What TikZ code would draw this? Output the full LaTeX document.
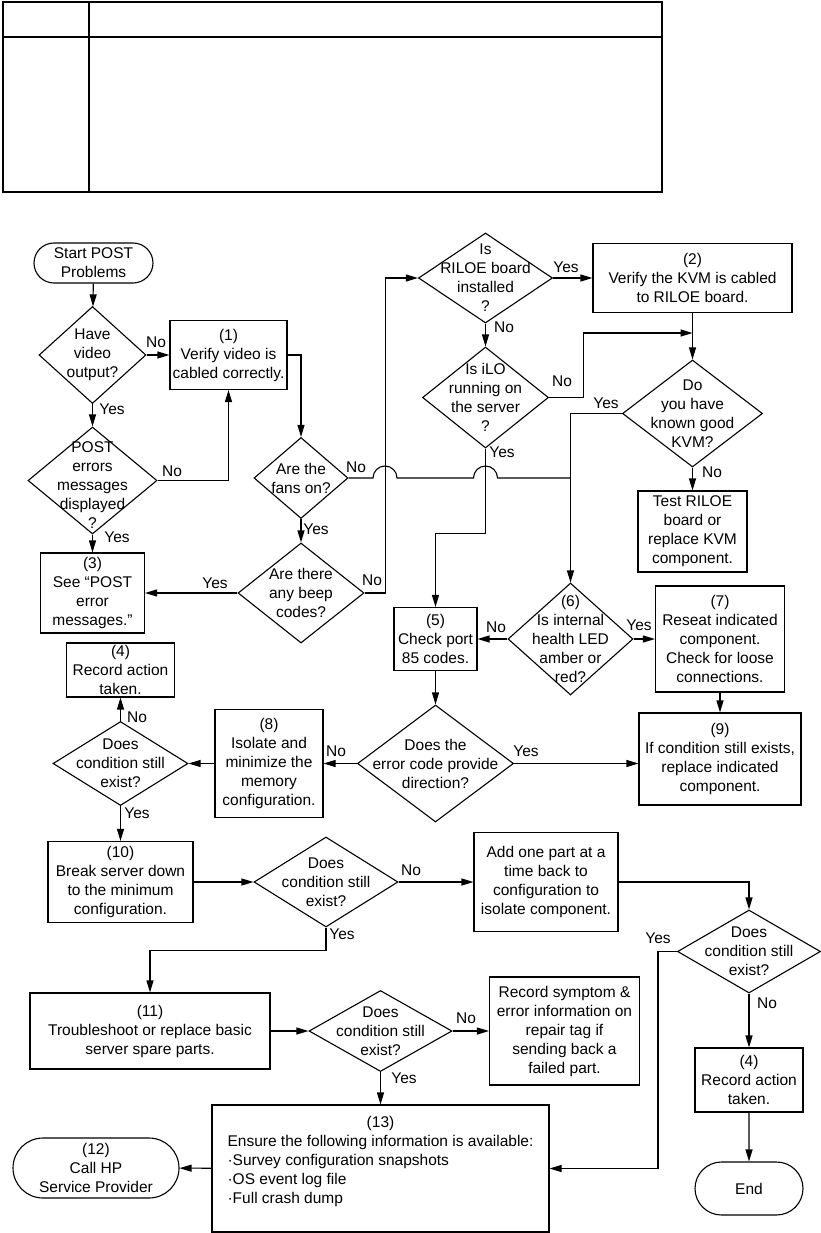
\documentclass[tikz,border=0pt]{standalone}
\usepackage{fontspec}
\setmainfont{Liberation Sans}
\usetikzlibrary{shapes.geometric,shapes.misc,arrows.meta}
\newcommand{\txtfont}{\fontsize{15.5}{19}\selectfont}

\begin{document}
\begin{tikzpicture}[x=1pt,y=-1pt,
  box/.style 2 args={draw, rectangle, line width=1.1pt, minimum width=#1, minimum height=#2, inner sep=0pt, align=center, font=\txtfont},
  term/.style 2 args={draw, rounded rectangle, line width=1.1pt, minimum width=#1, minimum height=#2, inner sep=0pt, align=center, font=\txtfont},
  decision/.style 2 args={draw, diamond, line width=1.1pt, minimum width=#1, minimum height=#2, inner sep=0pt},
  txt/.style={align=center, font=\txtfont, inner sep=0pt},
  flow/.style={draw, line width=1.1pt, -{Triangle[length=12pt,width=7pt]}},
  wire/.style={draw, line width=1.1pt}]
\useasboundingbox (0,0) rectangle (821,1233);

\draw[line width=2.5pt] (3,2) rectangle (662,192);
\draw[line width=2.5pt] (3,37) -- (662,37);
\draw[line width=2.5pt] (89,2) -- (89,192);

\node[term={119pt}{40pt}] (start) at (93.5,263) {Start POST\\Problems};
\node[decision={107pt}{97pt}, label={[txt]center:Have\\video\\output?}] (video) at (92.5,355) {};
\node[box={117pt}{69pt}] (b1) at (228.5,355) {(1)\\Verify video is\\cabled correctly.};
\node[decision={129pt}{107pt}, label={[txt,yshift=-5pt]center:POST\\errors\\messages\\displayed\\?}] (post) at (92.5,480.5) {};
\node[decision={94pt}{81pt}, label={[txt]center:Are the\\fans on?}] (fans) at (301,478) {};
\node[box={104pt}{80pt}] (b3) at (92.5,593) {(3)\\See “POST\\error\\messages.”};
\node[decision={126pt}{100pt}, label={[txt]center:Are there\\any beep\\codes?}] (beep) at (301,593) {};

\node[decision={134pt}{90pt}, label={[txt]center:Is\\RILOE board\\installed\\?}] (riloe) at (485.5,278) {};
\node[box={199pt}{69pt}] (b2) at (692.5,278) {(2)\\Verify the KVM is cabled\\to RILOE board.};
\node[decision={126pt}{101pt}, label={[txt]center:Is iLO\\running on\\the server\\?}] (ilo) at (485.5,397.5) {};
\node[decision={140pt}{107pt}, label={[txt]center:Do\\you have\\known good\\KVM?}] (kvm) at (692.5,413.5) {};
\node[box={109pt}{81pt}] (test) at (692.5,531.5) {Test RILOE\\board or\\replace KVM\\component.};

\node[box={83pt}{63pt}] (b5) at (435.5,639) {(5)\\Check port\\85 codes.};
\node[decision={125pt}{112pt}, label={[txt]center:(6)\\Is internal\\health LED\\amber or\\red?}] (q6) at (570.5,639) {};
\node[box={129pt}{106pt}] (b7) at (720,639) {(7)\\Reseat indicated\\component.\\Check for loose\\connections.};
\node[box={162pt}{92pt}] (b9) at (720,759) {(9)\\If condition still exists,\\replace indicated\\component.};
\node[decision={156pt}{117pt}, label={[txt]center:Does the\\error code provide\\direction?}] (code) at (435.5,763.5) {};
\node[box={108pt}{108pt}] (b8) at (269,763.5) {(8)\\Isolate and\\minimize the\\memory\\configuration.};
\node[decision={135pt}{84pt}, label={[txt]center:Does\\condition still\\exist?}] (cond1) at (120.5,763.5) {};
\node[box={108pt}{54pt}] (b4a) at (120.5,670) {(4)\\Record action\\taken.};

\node[box={145pt}{81pt}] (b10) at (120.5,882) {(10)\\Break server down\\to the minimum\\configuration.};
\node[decision={144pt}{90pt}, label={[txt]center:Does\\condition still\\exist?}] (cond2) at (326,882) {};
\node[box={144pt}{99pt}] (add) at (546,882) {Add one part at a\\time back to\\configuration to\\isolate component.};
\node[decision={143pt}{83pt}, label={[txt]center:Does\\condition still\\exist?}] (cond3) at (749,951.5) {};
\node[box={108pt}{64pt}] (b4b) at (749,1080) {(4)\\Record action\\taken.};
\node[term={108pt}{53pt}] (end) at (749,1188.5) {End};

\node[box={240pt}{76pt}] (b11) at (150,1031) {(11)\\Troubleshoot or replace basic\\server spare parts.};
\node[decision={143pt}{81pt}, label={[txt]center:Does\\condition still\\exist?}] (cond4) at (380.5,1031) {};
\node[box={150pt}{108pt}] (rec) at (564.5,1031) {Record symptom \&\\error information on\\repair tag if\\sending back a\\failed part.};
\node[box={337pt}{127pt}] (b13) at (380.5,1168.5) {\begin{tabular}{@{}l@{}}\multicolumn{1}{@{}c@{}}{(13)}\\Ensure the following information is available:\\·Survey configuration snapshots\\·OS event log file\\·Full crash dump\\[14pt]\end{tabular}};
\node[term={166pt}{60pt}] (b12) at (96,1168) {(12)\\Call HP\\Service Provider};

\coordinate (j2) at (692.5,333);
\coordinate (j6) at (570.5,478);

\path[flow] (start) -- (video);
\path[flow] (video) -- (b1);
\path[flow] (video) -- (post);
\path[flow] (post.east) -| (b1.south);
\path[flow] (b1.east) -| (fans.north);
\path[flow] (post) -- (b3);
\path[flow] (fans) -- (beep);
\path[flow] (beep) -- (b3);
\path[flow] (beep.east) -- ++(21,0) |- (riloe.west);
\path[wire] (fans.east) -- (373,478) arc (180:360:12) -- (473.5,478) arc (180:360:12) -- (j6);
\path[flow] (riloe) -- (b2);
\path[flow] (riloe) -- (ilo);
\path[flow] (b2) -- (kvm);
\path[flow] (ilo.east) -- ++(34,0) |- (j2);
\path[flow] (kvm.west) -| (q6.north);
\path[flow] (kvm) -- (test);
\path[flow] (ilo.south) -- ++(0,85) -| (b5.north);
\path[flow] (q6) -- (b5);
\path[flow] (q6) -- (b7);
\path[flow] (b7) -- (b9);
\path[flow] (b5) -- (code);
\path[flow] (code.east) -- (code.east -| b9.west);
\path[flow] (code) -- (b8);
\path[flow] (b8) -- (cond1);
\path[flow] (cond1) -- (b4a);
\path[flow] (cond1) -- (b10);
\path[flow] (b10) -- (cond2);
\path[flow] (cond2) -- (add);
\path[flow] (add.east) -| (cond3.north);
\path[flow] (cond3) -- (b4b);
\path[flow] (b4b) -- (end);
\path[flow] (cond3.west) -- ++(-19,0) |- (b13.east);
\path[flow] (cond2.south) -- ++(0,23) -| (b11.north);
\path[flow] (b11) -- (cond4);
\path[flow] (cond4) -- (rec);
\path[flow] (cond4) -- (b13);
\path[flow] (b13) -- (b12);

\node[txt] (n1) at (156,342) {No};
\node[txt] (y1) at (112,409) {Yes};
\node[txt] (n2) at (172,471) {No};
\node[txt] (y2) at (117,537) {Yes};
\node[txt] (n3) at (356,467) {No};
\node[txt] (y3) at (316,529) {Yes};
\node[txt] (y4) at (215,583) {Yes};
\node[txt] (n4) at (372,580) {No};
\node[txt] (y5) at (566,267) {Yes};
\node[txt] (n5) at (504,327) {No};
\node[txt] (n6) at (562,381) {No};
\node[txt] (y6) at (502,452) {Yes};
\node[txt] (y7) at (606,403) {Yes};
\node[txt] (n7) at (712,472) {No};
\node[txt] (n8) at (496,627) {No};
\node[txt] (y8) at (639,625) {Yes};
\node[txt] (n9) at (137,717) {No};
\node[txt] (y9) at (137,813) {Yes};
\node[txt] (n10) at (336,751) {No};
\node[txt] (y10) at (526,751) {Yes};
\node[txt] (n11) at (411,870) {No};
\node[txt] (y11) at (342,934) {Yes};
\node[txt] (y12) at (658,938) {Yes};
\node[txt] (n12) at (767,1003) {No};
\node[txt] (n13) at (466,1018) {No};
\node[txt] (y13) at (404,1078) {Yes};
\end{tikzpicture}
\end{document}
